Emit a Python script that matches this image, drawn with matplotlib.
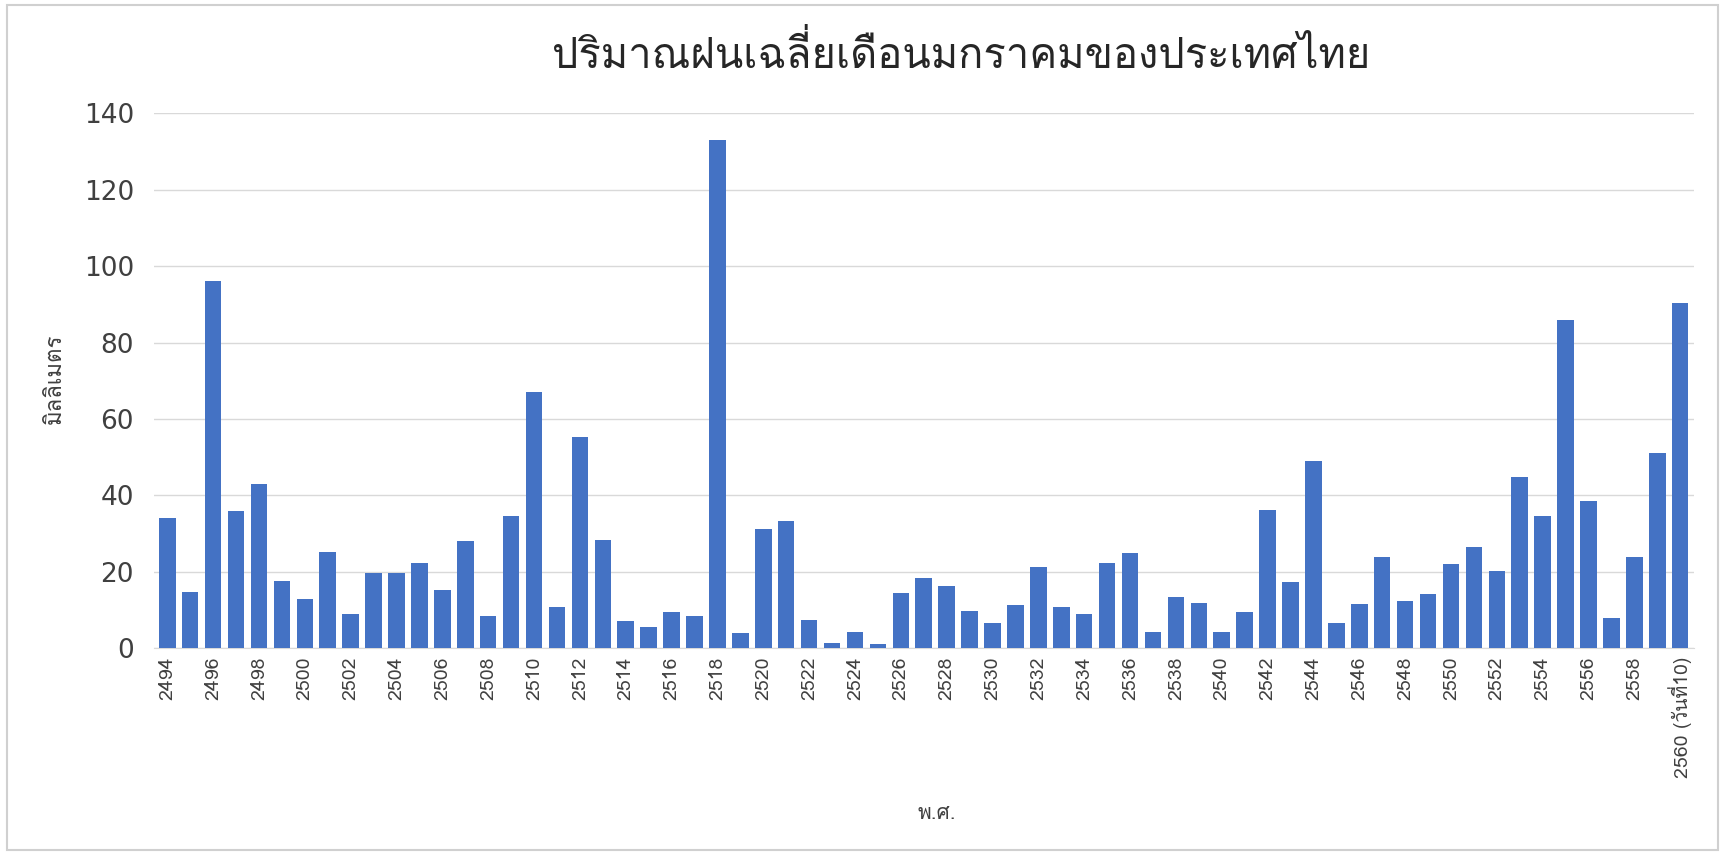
import matplotlib
matplotlib.use("Agg")
import matplotlib.pyplot as plt
from matplotlib import font_manager
from matplotlib.ft2font import FT2Font
from matplotlib.patches import Rectangle
import numpy as np

years = [str(y) for y in range(2494, 2560)] + ["2560 (วันที่10)"]
rain_mm = [34, 14.7, 96, 36, 43, 17.5, 12.9, 25.3, 8.9, 19.6,
           19.8, 22.4, 15.3, 28, 8.6, 34.6, 67.2, 10.7, 55.3, 28.4,
           7.2, 5.5, 9.5, 8.4, 133, 4, 31.3, 33.3, 7.5, 1.4,
           4.3, 1.2, 14.4, 18.4, 16.3, 9.8, 6.6, 11.3, 21.3, 10.9,
           8.9, 22.4, 25, 4.3, 13.4, 11.8, 4.3, 9.5, 36.1, 17.4,
           49, 6.6, 11.6, 24, 12.3, 14.1, 22.2, 26.4, 20.2, 44.8,
           34.6, 86, 38.6, 8, 24, 51, 90.4]
y_ticks = [0, 20, 40, 60, 80, 100, 120, 140]

title = "ปริมาณฝนเฉลี่ยเดือนมกราคมของประเทศไทย"
y_label = "มิลลิเมตร"
x_label = "พ.ศ."


# find an installed font that can draw Thai
def thai_font():
    seen = set()
    for f in font_manager.fontManager.ttflist:
        if f.name in seen:
            continue
        seen.add(f.name)
        try:
            cmap = FT2Font(f.fname).get_charmap()
        except Exception:
            continue
        if 0x0E1B in cmap and 0x0E34 in cmap:
            return f.name
    return None


tf = thai_font()
families = ([tf] if tf else []) + ["DejaVu Sans"]
plt.rcParams["font.family"] = ["DejaVu Sans"]

fig = plt.figure(figsize=(17.25, 8.52), dpi=100)
ax = fig.add_axes([0.089, 0.239, 0.893, 0.628])

x = np.arange(len(years))
ax.bar(x, rain_mm, width=0.72, color="#4472c4", zorder=3)

ax.set_xlim(-0.6, len(years) - 0.4)
ax.set_ylim(0, 140)
ax.set_yticks(y_ticks)
ax.tick_params(axis="y", labelsize=19, colors="#404040", length=0, pad=14)
ax.set_xticks(x[::2])
ax.set_xticklabels(years[::2], rotation=90, fontsize=14, color="#404040",
                   family=families)
ax.tick_params(axis="x", length=0, pad=6)

ax.grid(axis="y", color="#d9d9d9", lw=1, zorder=0)
for s in ["top", "right", "left"]:
    ax.spines[s].set_visible(False)
ax.spines["bottom"].set_color("#d9d9d9")

fig.text(0.557, 0.935, title, fontsize=30, ha="center", va="center",
         color="#262626", family=families)
fig.text(0.032, 0.555, y_label, fontsize=16, rotation=90, ha="center",
         va="center", color="#404040", family=families)
fig.text(0.543, 0.045, x_label, fontsize=15, ha="center", va="center",
         color="#404040", family=families)

fig.patches.append(Rectangle((0.004, 0.002), 0.992, 0.992, fill=False,
                             edgecolor="#d0d0d0", lw=1.5,
                             transform=fig.transFigure))

fig.savefig("out.png", dpi=100)
